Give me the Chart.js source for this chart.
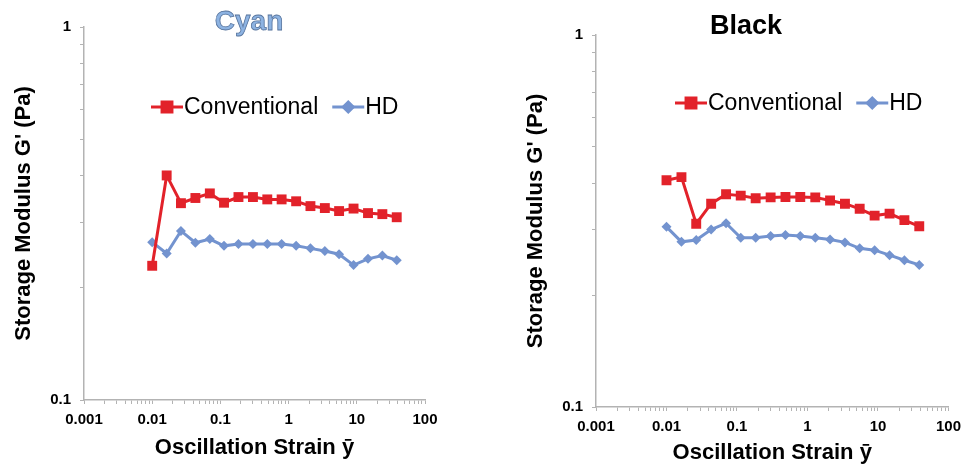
<!DOCTYPE html>
<html>
<head>
<meta charset="utf-8">
<script src="https://cdn.jsdelivr.net/npm/chart.js@4.4.1/dist/chart.umd.min.js"></script>
<style>
  html, body { margin: 0; padding: 0; background: #fff; }
  .wrap { position: absolute; top: 0; width: 484px; height: 464px; }
</style>
</head>
<body>
<div class="wrap" style="left:0"><canvas id="cyanChart" width="484" height="464"></canvas></div>
<div class="wrap" style="left:484px"><canvas id="blackChart" width="484" height="464"></canvas></div>
<script>
// Oscillation strain (x values, shared by both panels)
const strain = [0.01, 0.0163, 0.0264, 0.043, 0.07, 0.113, 0.184, 0.3, 0.487,
                0.79, 1.29, 2.09, 3.4, 5.5, 8.96, 14.6, 23.7, 38.5];

// Cyan panel
const cyanConventional = [0.229, 0.400, 0.337, 0.348, 0.358, 0.338, 0.350, 0.350, 0.345,
                          0.345, 0.341, 0.331, 0.327, 0.321, 0.326, 0.317, 0.315, 0.309];
const cyanHD = [0.265, 0.247, 0.284, 0.264, 0.270, 0.259, 0.262, 0.262, 0.262,
                0.262, 0.259, 0.255, 0.251, 0.246, 0.230, 0.239, 0.244, 0.237];

// Black panel
const blackConventional = [0.407, 0.415, 0.311, 0.352, 0.373, 0.370, 0.364, 0.366, 0.367,
                           0.367, 0.366, 0.359, 0.352, 0.341, 0.327, 0.331, 0.318, 0.306];
const blackHD = [0.305, 0.278, 0.281, 0.300, 0.312, 0.285, 0.285, 0.288, 0.290,
                 0.288, 0.285, 0.282, 0.277, 0.267, 0.264, 0.256, 0.248, 0.241];

const xDecades = [0.001, 0.01, 0.1, 1, 10, 100];
const yDecades = [0.1, 1];
const seriesNames = ["Conventional", "HD"];

const RED = "#e2222a";
const BLUE = "#7393cf";
const AXIS = "#b3b3b3";
const FONT = "'Liberation Sans', Arial, sans-serif";

function logTicks(lo, hi) {
    const out = [];
    for (let e = Math.round(Math.log10(lo)); e < Math.round(Math.log10(hi)); e++) {
        for (let m = 1; m < 10; m++) out.push({ value: Number((m * Math.pow(10, e)).toPrecision(3)) });
    }
    out.push({ value: hi });
    return out;
}

function isDecade(v, list) {
    return list.some(d => Math.abs(v - d) / d < 1e-6);
}

// title and in-plot legend
const panelDecor = {
    id: "panelDecor",
    afterDraw(chart, args, opts) {
        const ctx = chart.ctx;
        ctx.save();
        ctx.font = "bold " + opts.titleSize + "px " + FONT;
        ctx.textAlign = "center";
        ctx.textBaseline = "middle";
        ctx.fillStyle = opts.titleColor;
        ctx.fillText(opts.title, opts.titleX, opts.titleY);
        if (opts.titleStroke) {
            ctx.lineWidth = 0.8;
            ctx.strokeStyle = opts.titleStroke;
            ctx.strokeText(opts.title, opts.titleX, opts.titleY);
        }

        ctx.font = "23px " + FONT;
        ctx.textAlign = "left";
        let x = opts.legendX;
        const y = opts.legendY;
        chart.data.datasets.forEach(ds => {
            ctx.strokeStyle = ds.borderColor;
            ctx.lineWidth = 3;
            ctx.beginPath();
            ctx.moveTo(x, y);
            ctx.lineTo(x + 32, y);
            ctx.stroke();
            Chart.helpers.drawPoint(ctx, {
                pointStyle: ds.pointStyle, radius: ds.pointRadius, borderWidth: 1
            }, x + 16, y);
            ctx.fillStyle = ds.pointBackgroundColor;
            ctx.fill();
            ctx.fillStyle = "#000";
            ctx.fillText(ds.label, x + 33, y + 1);
            x += 33 + ctx.measureText(ds.label).width + 14;
        });
        ctx.restore();
    }
};

function makeChart(id, conv, hd, cfg) {
    const pts = vals => strain.map((s, i) => ({ x: s, y: vals[i] }));
    return new Chart(document.getElementById(id), {
        type: "line",
        data: {
            datasets: [
                {
                    label: seriesNames[0], data: pts(conv),
                    borderColor: RED, backgroundColor: RED, pointBackgroundColor: RED,
                    pointBorderColor: RED, borderWidth: 3, pointStyle: "rect",
                    pointRadius: 7, pointBorderWidth: 0, tension: 0
                },
                {
                    label: seriesNames[1], data: pts(hd),
                    borderColor: BLUE, backgroundColor: BLUE, pointBackgroundColor: BLUE,
                    pointBorderColor: BLUE, borderWidth: 3, pointStyle: "rectRot",
                    pointRadius: 5, pointBorderWidth: 0, tension: 0
                }
            ]
        },
        plugins: [panelDecor],
        options: {
            responsive: false,
            animation: false,
            layout: { padding: cfg.padding },
            plugins: {
                legend: { display: false },
                tooltip: { enabled: false },
                panelDecor: cfg.decor
            },
            scales: {
                x: {
                    type: "logarithmic",
                    min: 0.001, max: 100,
                    afterBuildTicks: s => { s.ticks = logTicks(0.001, 100); },
                    afterFit: s => { s.height = cfg.xHeight; },
                    border: { color: AXIS, width: 1.5 },
                    grid: { drawOnChartArea: false, drawTicks: true, tickLength: 4, color: AXIS },
                    ticks: {
                        autoSkip: false, maxRotation: 0, padding: 7, color: "#000",
                        font: { family: FONT, size: 15, weight: "bold" },
                        callback: v => isDecade(v, xDecades) ? String(v) : ""
                    },
                    title: {
                        display: true, text: cfg.xTitle, color: "#000",
                        font: { family: FONT, size: 22, weight: "bold", lineHeight: 1 },
                        padding: { top: 0, bottom: cfg.xTitlePad }
                    }
                },
                y: {
                    type: "logarithmic",
                    min: 0.1, max: 1,
                    afterBuildTicks: s => { s.ticks = logTicks(0.1, 1); },
                    afterFit: s => { s.width = 84; },
                    border: { color: AXIS, width: 1.5 },
                    grid: { drawOnChartArea: false, drawTicks: true, tickLength: 4, color: AXIS },
                    ticks: {
                        autoSkip: false, padding: 9, color: "#000",
                        font: { family: FONT, size: 15, weight: "bold" },
                        callback: v => isDecade(v, yDecades) ? String(v) : ""
                    },
                    title: {
                        display: true, text: "Storage Modulus G' (Pa)", color: "#000",
                        font: { family: FONT, size: 22, weight: "bold", lineHeight: 1 },
                        padding: { top: 13, bottom: 0 }
                    }
                }
            }
        }
    });
}

makeChart("cyanChart", cyanConventional, cyanHD, {
    padding: { top: 27, left: 0, right: 59, bottom: 0 },
    xHeight: 64,
    xTitle: "Oscillation Strain \u0233",
    xTitlePad: 5,
    decor: {
        title: "Cyan", titleSize: 28, titleColor: "#8db3e2", titleStroke: "#56739c",
        titleX: 249, titleY: 22, legendX: 151, legendY: 107
    }
});

makeChart("blackChart", blackConventional, blackHD, {
    padding: { top: 35, left: 28, right: 13, bottom: 0 },
    xHeight: 57,
    xTitle: "Oscillation Strain \u0233",
    xTitlePad: 0,
    decor: {
        title: "Black", titleSize: 27, titleColor: "#000", titleStroke: null,
        titleX: 262, titleY: 27, legendX: 191, legendY: 103
    }
});
</script>
</body>
</html>
